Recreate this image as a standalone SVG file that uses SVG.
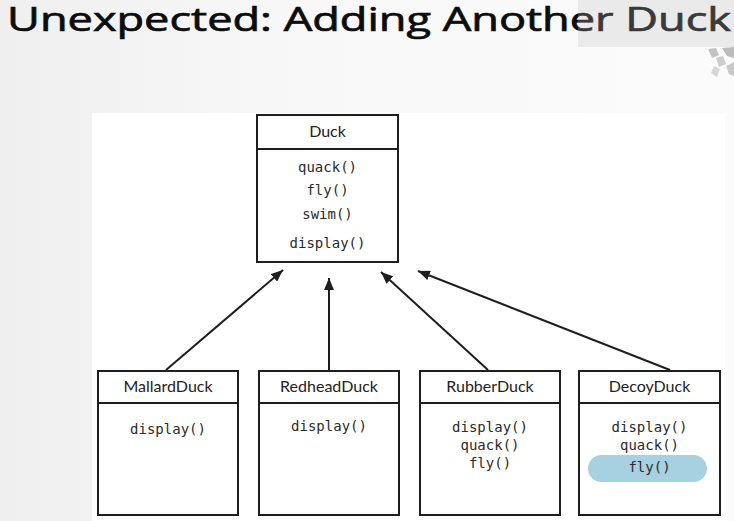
<svg xmlns="http://www.w3.org/2000/svg" width="734" height="521" viewBox="0 0 734 521">
  <defs>
    <linearGradient id="bg" x1="0" y1="0" x2="1" y2="0">
      <stop offset="0" stop-color="#efefef"/>
      <stop offset="0.4" stop-color="#f8f8f8"/>
      <stop offset="1" stop-color="#fbfbfb"/>
    </linearGradient>
    <marker id="arr" viewBox="0 0 12 10" refX="12" refY="5" markerWidth="12" markerHeight="10" markerUnits="userSpaceOnUse" orient="auto">
      <path d="M0,0 L12,5 L0,10 z" fill="#1e1e1e"/>
    </marker>
    <style>
      .box { fill: #ffffff; stroke: #1e1e1e; stroke-width: 2; }
      .div { stroke: #1e1e1e; stroke-width: 2; }
      .name { font-family: Lato, "Noto Sans", sans-serif; font-size: 16px; fill: #222; text-anchor: middle; }
      .meth { font-family: "DejaVu Sans Mono", "Liberation Mono", monospace; font-size: 14px; fill: #2a2a2a; text-anchor: middle; }
      .conn { stroke: #1e1e1e; stroke-width: 2; fill: none; marker-end: url(#arr); }
      .title { font-family: "Open Sans", "Noto Sans", sans-serif; font-size: 32px; fill: #0d0d0d; stroke: #0d0d0d; stroke-width: 0.7; }
    </style>
  </defs>

  <!-- background -->
  <rect x="0" y="0" width="734" height="521" fill="url(#bg)"/>
  <rect x="578" y="0" width="156" height="47" fill="#e9e9e9"/>
  <g id="decoration">
    <polygon points="708,49 716,48 719,55 712,58" fill="#c2c2c2"/>
    <polygon points="716,58 723,56 726,64 719,67" fill="#cdcdcd"/>
    <polygon points="722,48 734,47 734,58 727,56" fill="#bcbcbc"/>
    <polygon points="714,66 720,69 717,77 711,73" fill="#d6d6d6"/>
    <polygon points="726,66 734,62 734,76 729,74" fill="#c8c8c8"/>
  </g>
  <rect x="92" y="113" width="633" height="408" fill="#ffffff"/>

  <!-- title -->
  <g id="title">
    <text class="title" x="7" y="31" textLength="724" lengthAdjust="spacingAndGlyphs">Unexpected: Adding Another Duck</text>
    <rect x="578" y="0" width="156" height="47" fill="#eeeeee" opacity="0.2"/>
  </g>

  <!-- connectors -->
  <g id="connectors">
    <line class="conn" x1="166" y1="370" x2="283" y2="270"/>
    <line class="conn" x1="329" y1="370" x2="329" y2="278"/>
    <line class="conn" x1="488" y1="370" x2="381" y2="272"/>
    <line class="conn" x1="670" y1="370" x2="418" y2="271"/>
  </g>

  <!-- Duck -->
  <g id="duck">
    <rect class="box" x="257" y="115" width="141" height="147"/>
    <line class="div" x1="257" y1="149" x2="398" y2="149"/>
    <text class="name" x="327.5" y="137">Duck</text>
    <text class="meth" x="327.5" y="172">quack()</text>
    <text class="meth" x="327.5" y="195">fly()</text>
    <text class="meth" x="327.5" y="219">swim()</text>
    <text class="meth" x="327.5" y="248">display()</text>
  </g>

  <!-- MallardDuck -->
  <g id="mallard">
    <rect class="box" x="98" y="371" width="140" height="144"/>
    <line class="div" x1="98" y1="403" x2="238" y2="403"/>
    <text class="name" x="168" y="392">MallardDuck</text>
    <text class="meth" x="168" y="434">display()</text>
  </g>

  <!-- RedheadDuck -->
  <g id="redhead">
    <rect class="box" x="259" y="371" width="140" height="144"/>
    <line class="div" x1="259" y1="403" x2="399" y2="403"/>
    <text class="name" x="329" y="392">RedheadDuck</text>
    <text class="meth" x="329" y="431">display()</text>
  </g>

  <!-- RubberDuck -->
  <g id="rubber">
    <rect class="box" x="420" y="371" width="140" height="144"/>
    <line class="div" x1="420" y1="403" x2="560" y2="403"/>
    <text class="name" x="490" y="392">RubberDuck</text>
    <text class="meth" x="490" y="432">display()</text>
    <text class="meth" x="490" y="450">quack()</text>
    <text class="meth" x="490" y="468">fly()</text>
  </g>

  <!-- DecoyDuck -->
  <g id="decoy">
    <rect class="box" x="579" y="371" width="141" height="144"/>
    <line class="div" x1="579" y1="403" x2="720" y2="403"/>
    <text class="name" x="649.5" y="392">DecoyDuck</text>
    <text class="meth" x="649.5" y="432">display()</text>
    <text class="meth" x="649.5" y="450">quack()</text>
    <rect x="588" y="455" width="119" height="27" rx="13.5" fill="#a7d0e1"/>
    <text class="meth" x="649.5" y="472" fill="#1f2f38">fly()</text>
  </g>
</svg>
